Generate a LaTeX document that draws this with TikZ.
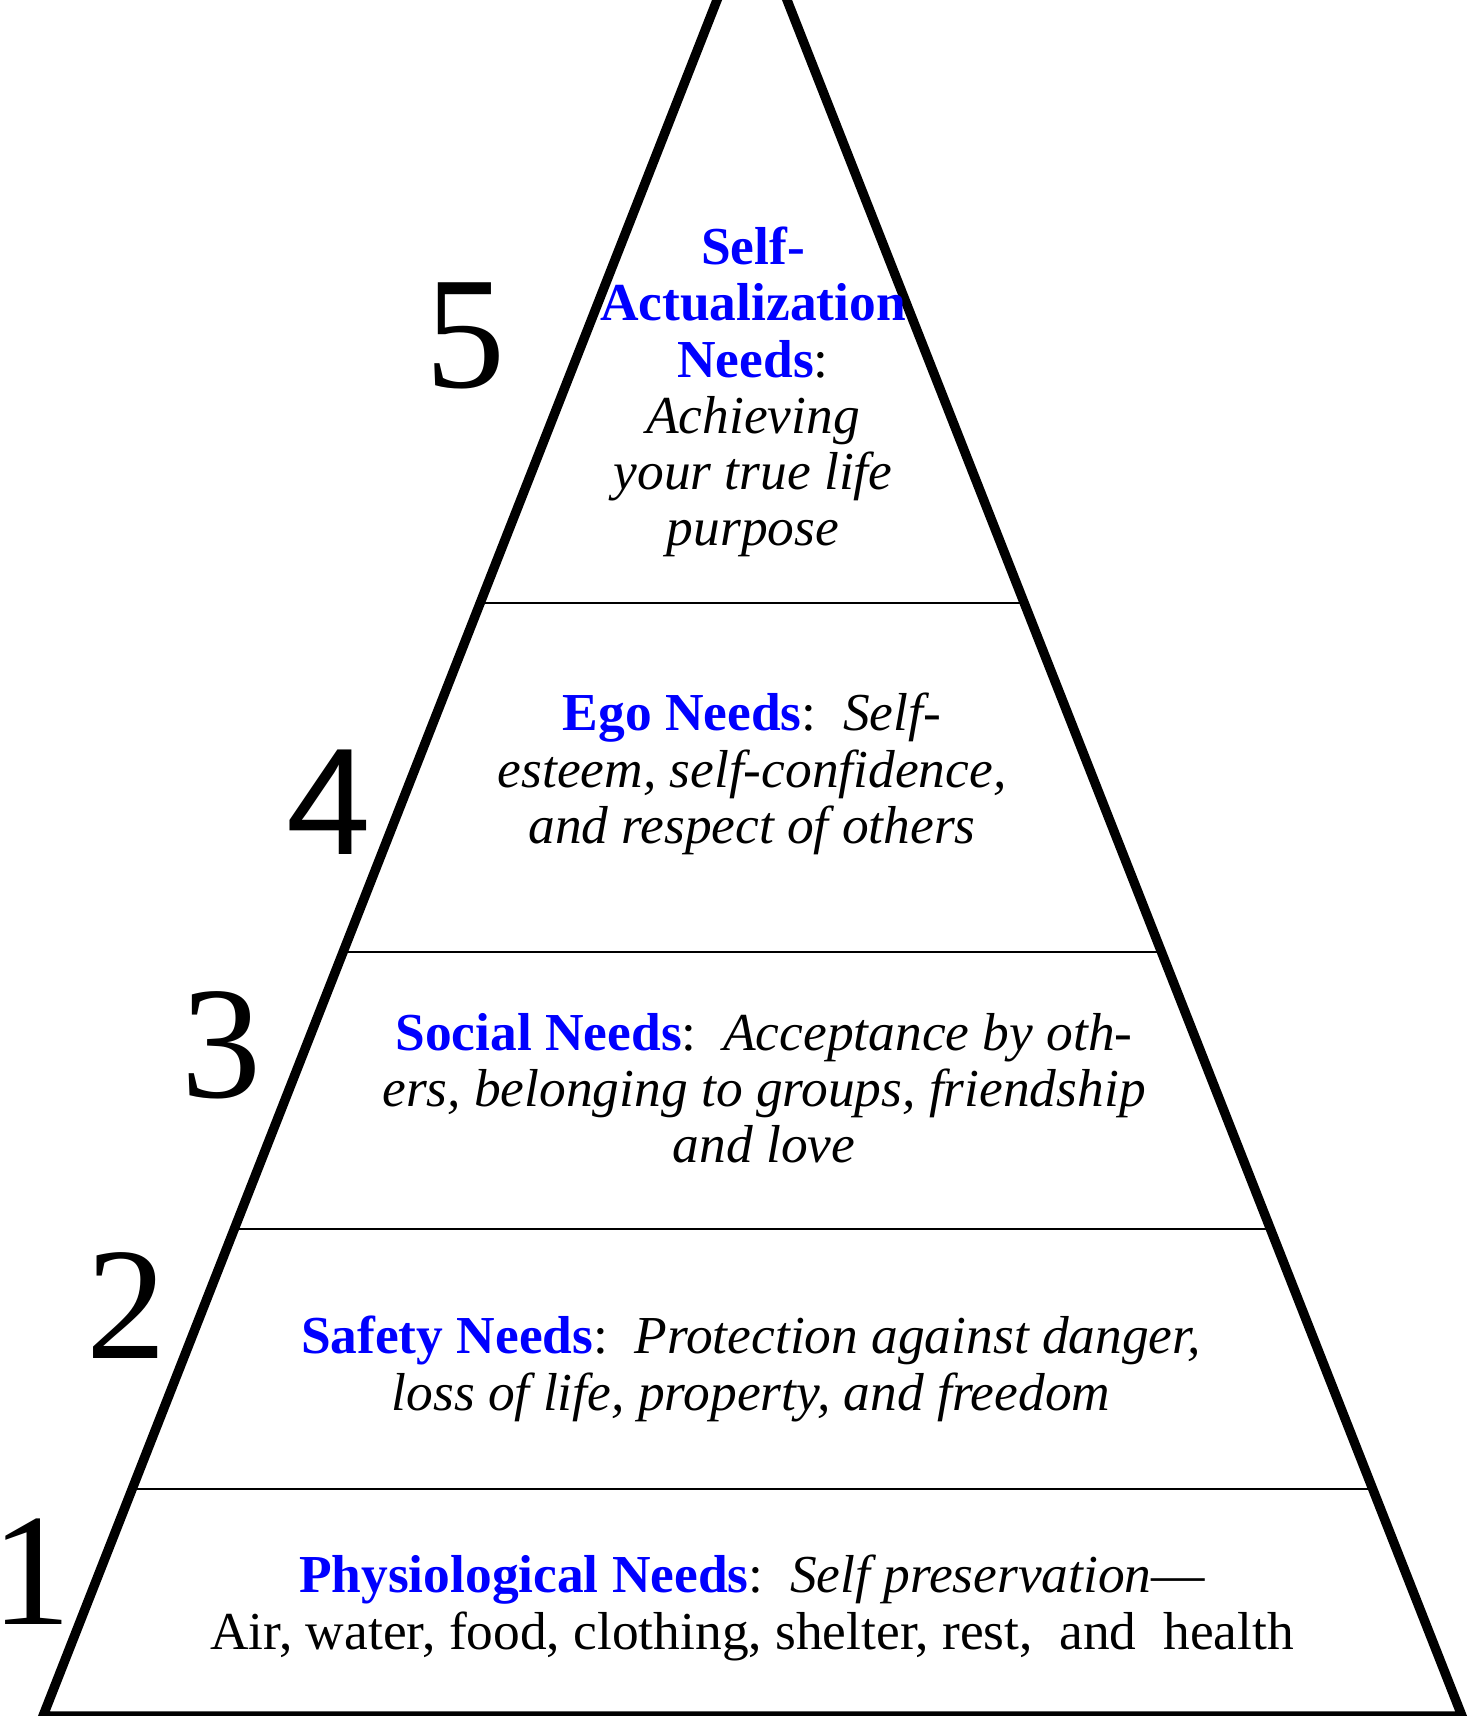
\documentclass[tikz,border=0pt]{standalone}
\usepackage{fontspec}
\setmainfont{Liberation Serif}
\newfontfamily\ranksans{Liberation Sans}
\usetikzlibrary{calc}

\definecolor{needblue}{RGB}{0,0,255}
\newcommand{\needname}[1]{\textcolor{needblue}{\textbf{#1}}}

\tikzset{
  needtext/.style={align=center, inner sep=0pt, font=\fontsize{26.7}{28.1}\selectfont},
  rank/.style={inner sep=0pt, font=\fontsize{80}{80}\selectfont},
}

\begin{document}
\begin{tikzpicture}[x=0.5pt, y=-0.5pt]
            \useasboundingbox (0,0) rectangle (1478,1716);
            \coordinate (apex) at (752,-89);
            \coordinate (bl) at (43,1716);
            \coordinate (br) at (1462,1716);
            \draw[line width=4.7pt] (bl) -- (apex) -- (br) -- cycle;
            % dividers between the levels
            \foreach \y in {603,952,1229,1489} {
                \pgfmathsetmacro{\t}{(\y+89)/1805}
                \draw[line width=1pt] ($(apex)!\t!(bl)$) -- ($(apex)!\t!(br)$);
            }
            \node[needtext] (self) at (753,392) {\needname{Self-}\\\needname{Actualization}\\\needname{Needs}:\\\textit{Achieving}\\\textit{your true life}\\\textit{purpose}};
            \node[needtext] (ego) at (752,774) {\needname{Ego Needs}:\ \ \textit{Self-}\\\textit{esteem, self-confidence,}\\\textit{and respect of others}};
            \node[needtext] (social) at (764,1088) {\needname{Social Needs}:\ \ \textit{Acceptance by oth-}\\\textit{ers, belonging to groups, friendship}\\\textit{and love}};
            \node[needtext] (safety) at (751,1369) {\needname{Safety Needs}:\ \ \textit{Protection against danger,}\\\textit{loss of life, property, and freedom}};
            \node[needtext] (physio) at (752,1608) {\needname{Physiological Needs}:\ \ \textit{Self preservation}---\\Air, water, food, clothing, shelter, rest,\ \ and\ \ health};
            \node[rank] (r5) at (465,336) {5};
            \node[rank] (r4) at (329,802) {\ranksans\fontsize{76}{76}\selectfont 4};
            \node[rank] (r3) at (221,1045) {3};
            \node[rank] (r2) at (126,1306) {2};
            \node[rank] (r1) at (31,1572) {1};
        \end{tikzpicture}
\end{document}
